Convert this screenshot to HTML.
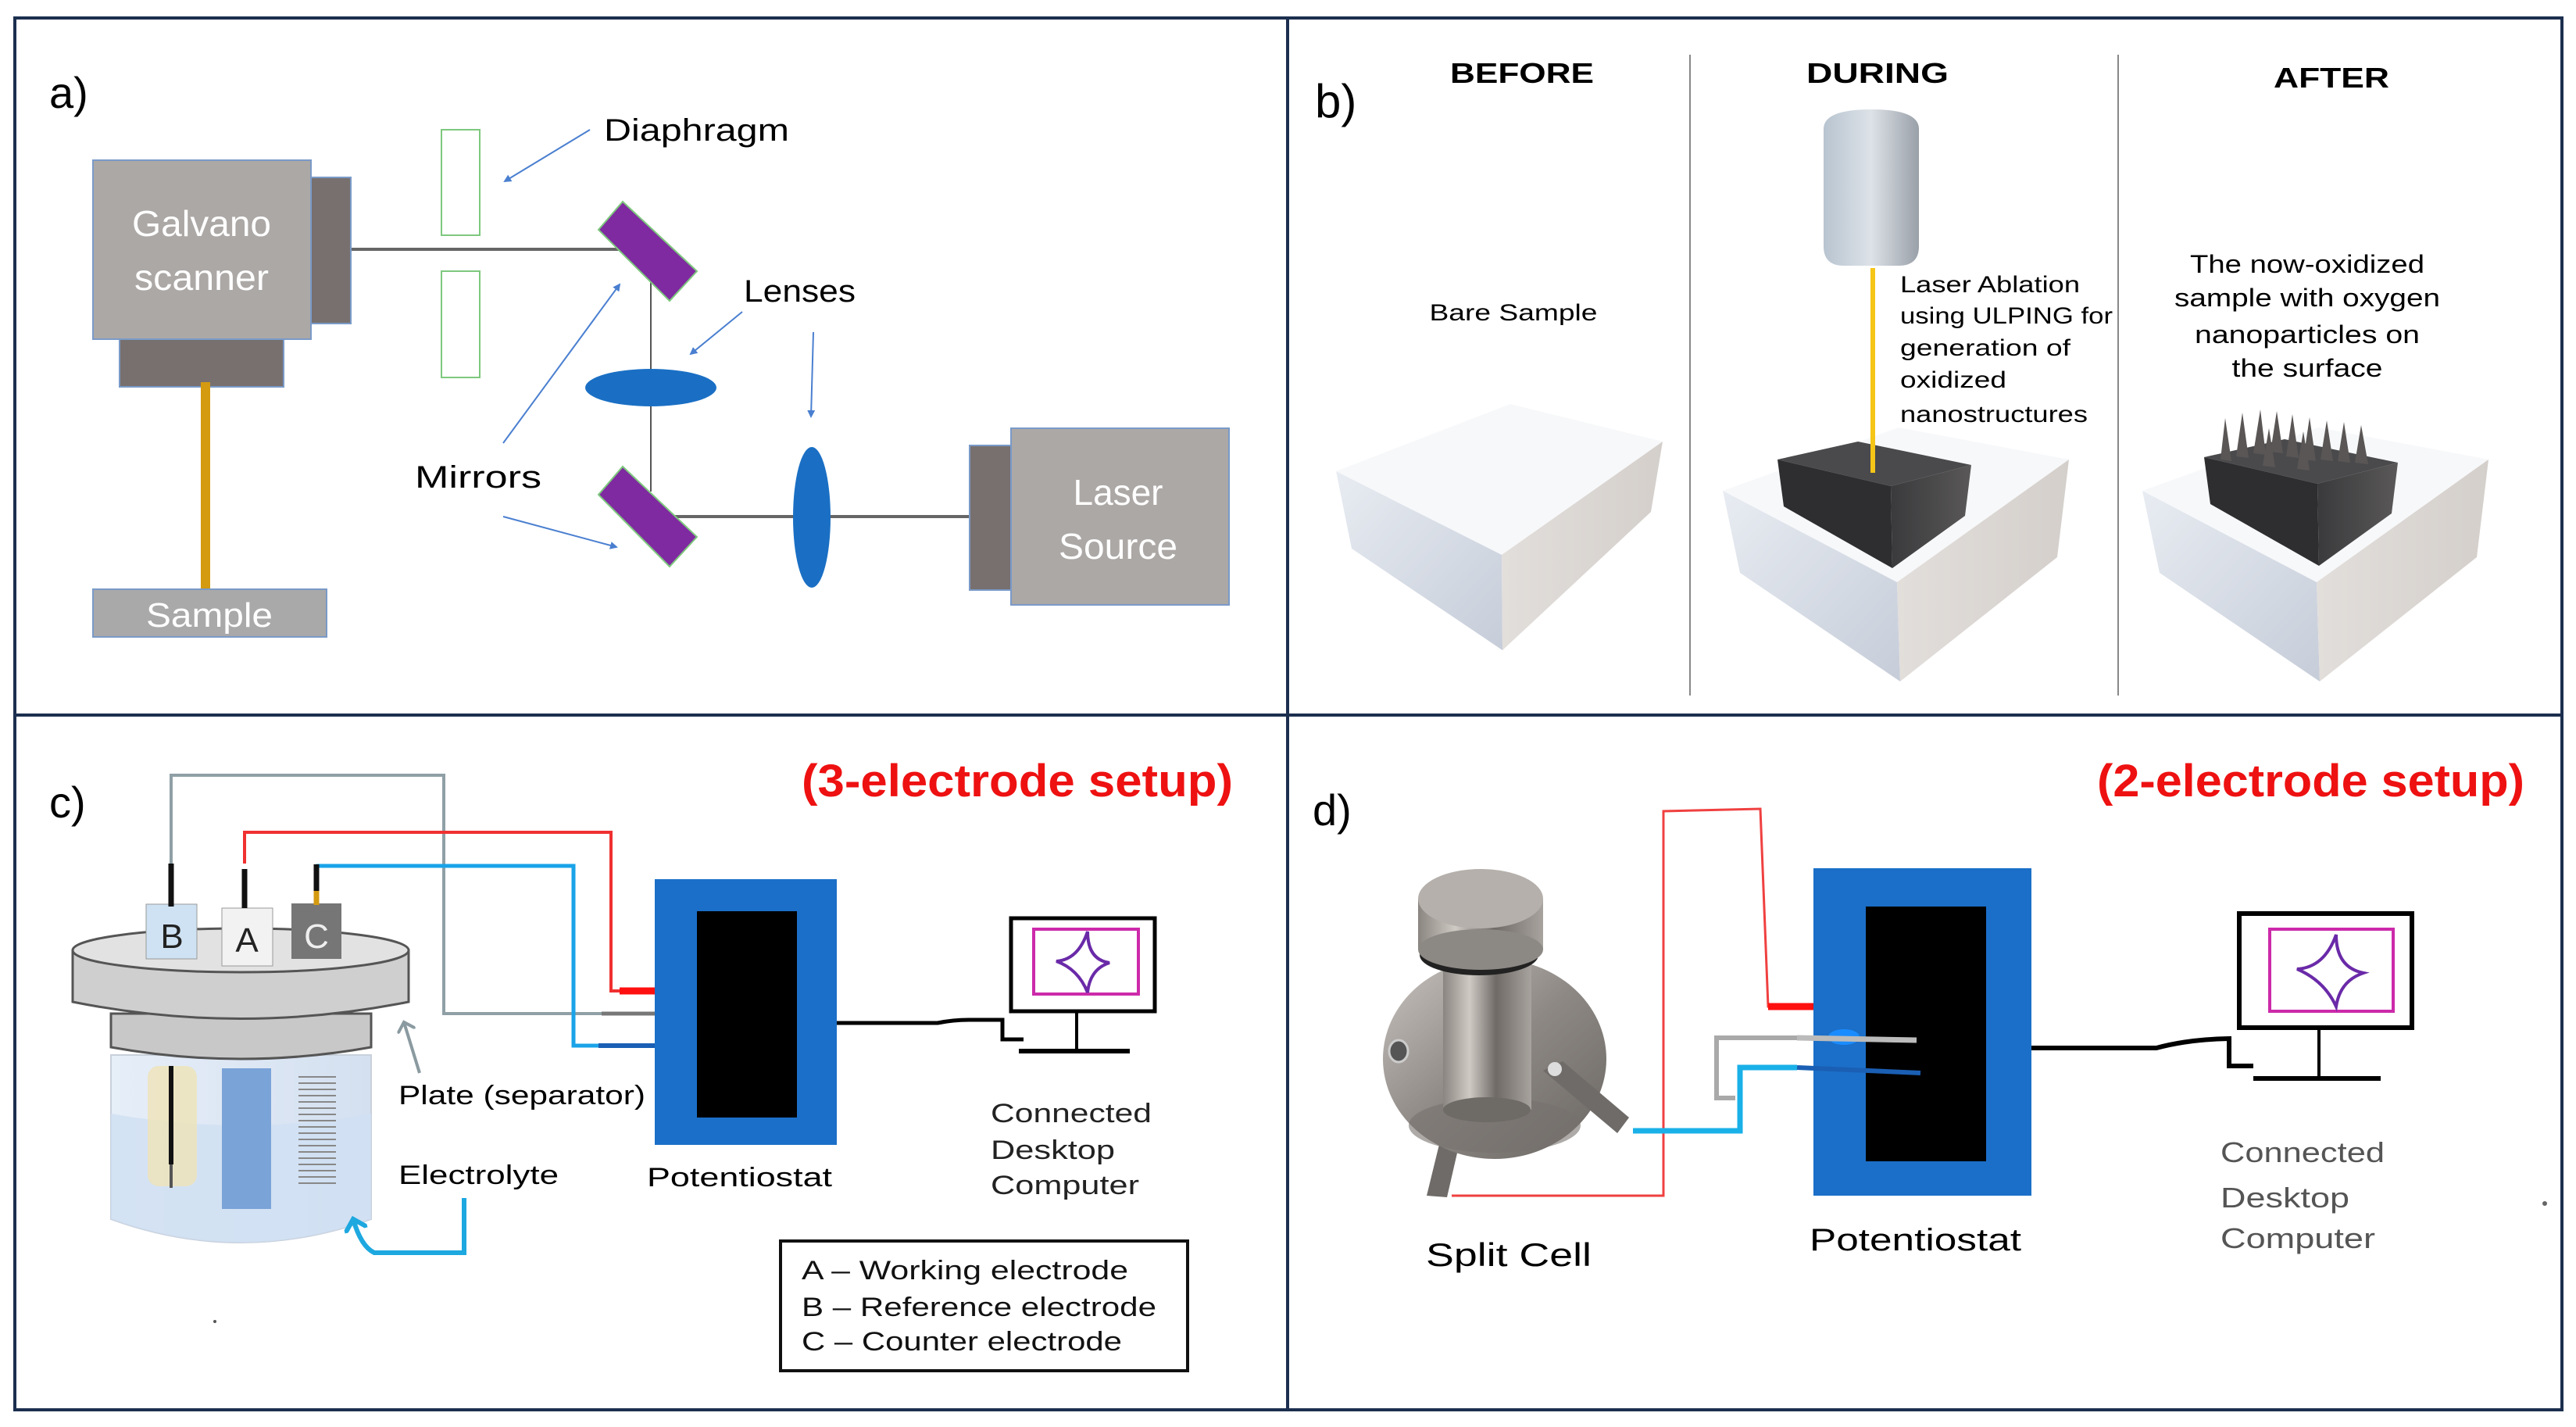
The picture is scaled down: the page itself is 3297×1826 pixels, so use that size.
<!DOCTYPE html>
<html><head><meta charset="utf-8"><style>html,body{margin:0;padding:0;background:#fff}svg{display:block}</style></head><body>
<svg width="3297" height="1826" viewBox="0 0 3297 1826" xmlns="http://www.w3.org/2000/svg" font-family="Liberation Sans, sans-serif">
<defs>
<marker id="ab" markerWidth="10" markerHeight="10" refX="8" refY="5" orient="auto" markerUnits="userSpaceOnUse"><path d="M0,0 L10,5 L0,10 z" fill="#4a7fd0"/></marker>
<marker id="ag" markerWidth="24" markerHeight="24" refX="12" refY="12" orient="auto" markerUnits="userSpaceOnUse"><path d="M0,0 L12,12 L0,24" fill="none" stroke="#8a9aa0" stroke-width="4"/></marker>
<marker id="ac" markerWidth="30" markerHeight="30" refX="15" refY="15" orient="auto" markerUnits="userSpaceOnUse"><path d="M0,0 L15,15 L0,30" fill="none" stroke="#1ea8e0" stroke-width="6"/></marker>
<linearGradient id="cyl" x1="0" x2="1"><stop offset="0" stop-color="#b8c4d0"/><stop offset="0.5" stop-color="#dde2e8"/><stop offset="1" stop-color="#9aa0a8"/></linearGradient>
<linearGradient id="wl" x1="0" x2="1" y1="0" y2="1"><stop offset="0" stop-color="#e8ecf2"/><stop offset="1" stop-color="#c6cdd9"/></linearGradient>
<linearGradient id="wr" x1="0" x2="1"><stop offset="0" stop-color="#e2dedb"/><stop offset="1" stop-color="#d4cfcb"/></linearGradient>
<linearGradient id="dk" x1="0" x2="1"><stop offset="0" stop-color="#3a3a3c"/><stop offset="1" stop-color="#5a5858"/></linearGradient>
<linearGradient id="met" x1="0" x2="1"><stop offset="0" stop-color="#8a8580"/><stop offset="0.3" stop-color="#cfcac4"/><stop offset="0.6" stop-color="#6f6a66"/><stop offset="1" stop-color="#a8a39e"/></linearGradient>
<linearGradient id="met2" x1="0" x2="1" y1="0" y2="1"><stop offset="0" stop-color="#c8c3be"/><stop offset="0.5" stop-color="#8d8884"/><stop offset="1" stop-color="#6a6662"/></linearGradient>
<linearGradient id="jar" x1="0" x2="1"><stop offset="0" stop-color="#e6eef8"/><stop offset="1" stop-color="#d4e0f0"/></linearGradient>
<g id="wbox">
<polygon points="2205,628 2430,547 2648,588 2428,745" fill="#f7f8fa"/>
<polygon points="2205,628 2428,745 2432,872 2227,733" fill="url(#wl)"/>
<polygon points="2428,745 2648,588 2633,713 2432,872" fill="url(#wr)"/>
</g>
<g id="dcube">
<polygon points="2275,588 2378,565 2523,595 2420,622" fill="#4a4a4c"/>
<polygon points="2275,588 2420,622 2422,727 2283,648" fill="#2e2e30"/>
<polygon points="2420,622 2523,595 2515,660 2422,727" fill="url(#dk)"/>
</g>
</defs>
<rect x="19" y="23" width="3260" height="1781" fill="none" stroke="#1c2f4f" stroke-width="4"/>
<line x1="1648" y1="23" x2="1648" y2="1804" stroke="#1c2f4f" stroke-width="4"/>
<line x1="19" y1="915" x2="3279" y2="915" stroke="#1c2f4f" stroke-width="4"/>

<!-- PANEL A -->
<text x="63" y="138" font-size="56">a)</text>
<line x1="449" y1="319" x2="800" y2="319" stroke="#666" stroke-width="4"/>
<line x1="833" y1="355" x2="833" y2="629" stroke="#555" stroke-width="2"/>
<line x1="863" y1="661" x2="1241" y2="661" stroke="#666" stroke-width="4"/>
<rect x="119" y="205" width="279" height="229" fill="#aca8a6" stroke="#7a9ac8" stroke-width="2"/>
<rect x="398" y="227" width="51" height="187" fill="#77706f" stroke="#7a9ac8" stroke-width="2"/>
<rect x="153" y="434" width="210" height="61" fill="#77706f" stroke="#7a9ac8" stroke-width="2"/>
<line x1="263" y1="489" x2="263" y2="757" stroke="#d49a10" stroke-width="12"/>
<rect x="119" y="754" width="299" height="61" fill="#a9a9a9" stroke="#7a9ac8" stroke-width="2"/>
<text x="258" y="302" font-size="46" fill="#fff" text-anchor="middle" textLength="178" lengthAdjust="spacingAndGlyphs">Galvano</text>
<text x="258" y="371" font-size="46" fill="#fff" text-anchor="middle" textLength="172" lengthAdjust="spacingAndGlyphs">scanner</text>
<text x="268" y="802" font-size="44" fill="#fff" text-anchor="middle" textLength="162" lengthAdjust="spacingAndGlyphs">Sample</text>
<rect x="565" y="166" width="49" height="135" fill="none" stroke="#7ec87e" stroke-width="2"/>
<rect x="565" y="347" width="49" height="136" fill="none" stroke="#7ec87e" stroke-width="2"/>
<polygon points="797,258 892,347 857,385 766,294" fill="#7f2aa0" stroke="#7ec87e" stroke-width="2"/>
<polygon points="797,597 892,687 857,725 766,633" fill="#7f2aa0" stroke="#7ec87e" stroke-width="2"/>
<ellipse cx="833" cy="496" rx="84" ry="24" fill="#1a6fc4"/>
<ellipse cx="1039" cy="662" rx="24" ry="90" fill="#1a6fc4"/>
<rect x="1241" y="570" width="53" height="185" fill="#77706f" stroke="#7a9ac8" stroke-width="2"/>
<rect x="1294" y="548" width="279" height="226" fill="#aca8a6" stroke="#7a9ac8" stroke-width="2"/>
<text x="1431" y="646" font-size="46" fill="#fff" text-anchor="middle" textLength="115" lengthAdjust="spacingAndGlyphs">Laser</text>
<text x="1431" y="715" font-size="46" fill="#fff" text-anchor="middle" textLength="152" lengthAdjust="spacingAndGlyphs">Source</text>
<text x="773" y="180" font-size="40" textLength="237" lengthAdjust="spacingAndGlyphs">Diaphragm</text>
<text x="952" y="386" font-size="40" textLength="143" lengthAdjust="spacingAndGlyphs">Lenses</text>
<text x="531" y="624" font-size="40" textLength="162" lengthAdjust="spacingAndGlyphs">Mirrors</text>
<g stroke="#4a7fd0" stroke-width="2" fill="none" marker-end="url(#ab)">
<line x1="755" y1="166" x2="646" y2="232"/>
<line x1="950" y1="399" x2="884" y2="453"/>
<line x1="1041" y1="425" x2="1038" y2="533"/>
<line x1="644" y1="567" x2="793" y2="364"/>
<line x1="644" y1="661" x2="789" y2="700"/>
</g>

<!-- PANEL B -->
<text x="1683" y="150" font-size="60">b)</text>
<line x1="2163" y1="70" x2="2163" y2="890" stroke="#888" stroke-width="2"/>
<line x1="2711" y1="70" x2="2711" y2="890" stroke="#888" stroke-width="2"/>
<text x="1948" y="106" font-size="36" font-weight="bold" text-anchor="middle" textLength="184" lengthAdjust="spacingAndGlyphs">BEFORE</text>
<text x="2403" y="106" font-size="36" font-weight="bold" text-anchor="middle" textLength="182" lengthAdjust="spacingAndGlyphs">DURING</text>
<text x="2984" y="112" font-size="36" font-weight="bold" text-anchor="middle" textLength="148" lengthAdjust="spacingAndGlyphs">AFTER</text>
<text x="1937" y="410" font-size="30" text-anchor="middle" textLength="215" lengthAdjust="spacingAndGlyphs">Bare Sample</text>
<!-- before box -->
<polygon points="1710,603 1933,517 2128,565 1922,710" fill="#f7f8fa"/>
<polygon points="1710,603 1922,710 1923,832 1730,702" fill="url(#wl)"/>
<polygon points="1922,710 2128,565 2113,655 1923,832" fill="url(#wr)"/>
<!-- during -->
<use href="#wbox"/>
<use href="#dcube"/>
<path d="M2334,165 Q2334,140 2395,140 Q2456,140 2456,165 L2456,315 Q2456,340 2430,340 L2360,340 Q2334,340 2334,315 Z" fill="url(#cyl)"/>
<line x1="2397" y1="343" x2="2397" y2="605" stroke="#f5c518" stroke-width="6"/>
<g font-size="30">
<text x="2432" y="374" textLength="230" lengthAdjust="spacingAndGlyphs">Laser Ablation</text>
<text x="2432" y="414" textLength="272" lengthAdjust="spacingAndGlyphs">using ULPING for</text>
<text x="2432" y="455" textLength="218" lengthAdjust="spacingAndGlyphs">generation of</text>
<text x="2432" y="496" textLength="136" lengthAdjust="spacingAndGlyphs">oxidized</text>
<text x="2432" y="540" textLength="240" lengthAdjust="spacingAndGlyphs">nanostructures</text>
</g>
<!-- after -->
<use href="#wbox" transform="translate(537,0)"/>
<use href="#dcube" transform="translate(546,-3)"/>
<g fill="#5a5655">
<polygon points="2842,588 2848,535 2856,590"/><polygon points="2862,584 2870,528 2878,586"/><polygon points="2884,580 2893,524 2900,582"/><polygon points="2906,578 2914,526 2922,580"/><polygon points="2926,584 2934,530 2942,586"/><polygon points="2948,588 2956,534 2964,590"/><polygon points="2970,588 2978,538 2986,590"/><polygon points="2992,590 3000,540 3008,592"/><polygon points="3014,592 3022,544 3031,594"/><polygon points="2896,596 2904,548 2912,598"/><polygon points="2940,600 2948,552 2956,602"/>
</g>
<g font-size="32" text-anchor="middle">
<text x="2953" y="349" textLength="300" lengthAdjust="spacingAndGlyphs">The now-oxidized</text>
<text x="2953" y="392" textLength="340" lengthAdjust="spacingAndGlyphs">sample with oxygen</text>
<text x="2953" y="439" textLength="288" lengthAdjust="spacingAndGlyphs">nanoparticles on</text>
<text x="2953" y="482" textLength="193" lengthAdjust="spacingAndGlyphs">the surface</text>
</g>

<!-- PANEL C -->
<text x="63" y="1046" font-size="56">c)</text>
<text x="1026" y="1019" font-size="58" font-weight="bold" fill="#ee1111" textLength="552" lengthAdjust="spacingAndGlyphs">(3-electrode setup)</text>
<polyline points="219,1105 219,992 568,992 568,1297 952,1297" fill="none" stroke="#8fa0a6" stroke-width="4"/>
<line x1="770" y1="1297" x2="952" y2="1297" stroke="#777" stroke-width="5"/>
<polyline points="313,1105 313,1065 782,1065 782,1268 800,1268" fill="none" stroke="#f03030" stroke-width="4"/>
<line x1="793" y1="1268" x2="952" y2="1268" stroke="#ff1010" stroke-width="9"/>
<polyline points="405,1108 734,1108 734,1338 770,1338" fill="none" stroke="#1aa3e8" stroke-width="5"/>
<line x1="766" y1="1338" x2="952" y2="1338" stroke="#1a5fb4" stroke-width="6"/>
<path d="M142,1350 L142,1560 Q308,1620 475,1560 L475,1350 Z" fill="url(#jar)" stroke="#c8d0dc" stroke-width="2"/>
<path d="M142,1425 Q308,1455 475,1425 L475,1560 Q308,1620 142,1560 Z" fill="#cfe0f3" opacity="0.8"/>
<rect x="189" y="1364" width="63" height="154" rx="14" fill="#efe3b8" opacity="0.8"/>
<line x1="219" y1="1364" x2="219" y2="1490" stroke="#111" stroke-width="6"/>
<line x1="219" y1="1490" x2="219" y2="1520" stroke="#555" stroke-width="4"/>
<rect x="284" y="1367" width="63" height="180" fill="#7aa3d8"/>
<g fill="none" stroke="#888" stroke-width="2">
<path d="M382,1378 h48 M382,1386 h48 M382,1394 h48 M382,1402 h48 M382,1410 h48 M382,1418 h48 M382,1426 h48 M382,1434 h48 M382,1442 h48 M382,1450 h48 M382,1458 h48 M382,1466 h48 M382,1474 h48 M382,1482 h48 M382,1490 h48 M382,1498 h48 M382,1506 h48 M382,1514 h48"/>
</g>
<path d="M142,1297 L142,1340 Q308,1370 475,1340 L475,1297 Z" fill="#c8c8c8" stroke="#555" stroke-width="3"/>
<path d="M93,1216 L93,1282 Q308,1325 523,1282 L523,1216 Z" fill="#cfcfcf" stroke="#555" stroke-width="3"/>
<ellipse cx="308" cy="1216" rx="215" ry="28" fill="#e2e2e2" stroke="#555" stroke-width="3"/>
<rect x="187" y="1157" width="65" height="70" fill="#cfe2f3" stroke="#999"/>
<rect x="284" y="1162" width="65" height="74" fill="#f2f2f2" stroke="#999"/>
<rect x="373" y="1156" width="64" height="71" fill="#767676"/>
<line x1="219" y1="1105" x2="219" y2="1160" stroke="#111" stroke-width="7"/>
<line x1="313" y1="1112" x2="313" y2="1162" stroke="#111" stroke-width="7"/>
<line x1="405" y1="1106" x2="405" y2="1140" stroke="#111" stroke-width="7"/>
<line x1="405" y1="1140" x2="405" y2="1158" stroke="#d49a10" stroke-width="7"/>
<text x="220" y="1213" font-size="44" text-anchor="middle" fill="#222">B</text>
<text x="316" y="1218" font-size="44" text-anchor="middle" fill="#222">A</text>
<text x="405" y="1213" font-size="44" text-anchor="middle" fill="#eee">C</text>
<line x1="537" y1="1373" x2="517" y2="1308" stroke="#8a9aa0" stroke-width="4" marker-end="url(#ag)"/>
<text x="510" y="1413" font-size="34" textLength="316" lengthAdjust="spacingAndGlyphs">Plate (separator)</text>
<text x="510" y="1515" font-size="34" textLength="205" lengthAdjust="spacingAndGlyphs">Electrolyte</text>
<path d="M594,1533 L594,1603 L479,1603 Q462,1595 452,1560" fill="none" stroke="#1ea8e0" stroke-width="6" marker-end="url(#ac)"/>
<rect x="838" y="1125" width="233" height="340" fill="#1b6fc8"/>
<rect x="892" y="1166" width="128" height="264" fill="#000"/>
<text x="828" y="1518" font-size="34" textLength="237" lengthAdjust="spacingAndGlyphs">Potentiostat</text>
<path d="M1071,1309 L1200,1309 Q1220,1305 1240,1305 L1283,1305 L1283,1330 L1310,1330" fill="none" stroke="#000" stroke-width="5"/>
<rect x="1294" y="1175" width="184" height="119" fill="#fff" stroke="#000" stroke-width="5"/>
<line x1="1378" y1="1294" x2="1378" y2="1344" stroke="#000" stroke-width="4"/>
<line x1="1304" y1="1345" x2="1446" y2="1345" stroke="#000" stroke-width="6"/>
<rect x="1323" y="1189" width="134" height="83" fill="none" stroke="#cc2aaa" stroke-width="4"/>
<path d="M1352,1230 Q1380,1228 1392,1192 Q1392,1228 1420,1232 Q1395,1240 1392,1270 Q1380,1240 1352,1230 Z" fill="none" stroke="#6a2aa8" stroke-width="4"/>
<g font-size="34" fill="#222">
<text x="1268" y="1436" textLength="206" lengthAdjust="spacingAndGlyphs">Connected</text>
<text x="1268" y="1483" textLength="159" lengthAdjust="spacingAndGlyphs">Desktop</text>
<text x="1268" y="1528" textLength="190" lengthAdjust="spacingAndGlyphs">Computer</text>
</g>
<rect x="999" y="1588" width="521" height="166" fill="#fff" stroke="#111" stroke-width="4"/>
<g font-size="34" fill="#111">
<text x="1026" y="1637" textLength="418" lengthAdjust="spacingAndGlyphs">A – Working electrode</text>
<text x="1026" y="1684" textLength="454" lengthAdjust="spacingAndGlyphs">B – Reference electrode</text>
<text x="1026" y="1728" textLength="410" lengthAdjust="spacingAndGlyphs">C – Counter electrode</text>
</g>
<circle cx="275" cy="1691" r="2" fill="#555"/>

<!-- PANEL D -->
<text x="1680" y="1056" font-size="56">d)</text>
<text x="2684" y="1019" font-size="58" font-weight="bold" fill="#ee1111" textLength="547" lengthAdjust="spacingAndGlyphs">(2-electrode setup)</text>
<polygon points="1848,1440 1872,1445 1852,1532 1826,1530" fill="#6f6b68"/>
<ellipse cx="1913" cy="1355" rx="143" ry="128" fill="url(#met2)"/>
<ellipse cx="1913" cy="1440" rx="110" ry="35" fill="#77726e" opacity="0.6"/>
<rect x="1847" y="1225" width="113" height="195" fill="url(#met)"/>
<ellipse cx="1903" cy="1420" rx="56" ry="16" fill="#6e6a66"/>
<ellipse cx="1893" cy="1222" rx="76" ry="26" fill="#222"/>
<rect x="1815" y="1150" width="160" height="65" fill="url(#met)"/>
<ellipse cx="1895" cy="1215" rx="80" ry="26" fill="#8c8884"/>
<ellipse cx="1895" cy="1150" rx="80" ry="38" fill="#b5b0ab"/>
<ellipse cx="1790" cy="1345" rx="12" ry="14" fill="#555" stroke="#ccc" stroke-width="3"/>
<polygon points="1975,1370 2000,1358 2085,1430 2070,1450" fill="#6f6b68"/>
<circle cx="1990" cy="1368" r="9" fill="#ddd"/>
<polyline points="1858,1530 2129,1530 2129,1038 2253,1035 2263,1288 2300,1288" fill="none" stroke="#f04040" stroke-width="3"/>
<line x1="2263" y1="1288" x2="2458" y2="1288" stroke="#ff1010" stroke-width="9"/>
<polyline points="2221,1405 2197,1405 2197,1328 2300,1328" fill="none" stroke="#a9a9a9" stroke-width="6"/>
<polyline points="2090,1447 2227,1447 2227,1366 2300,1366" fill="none" stroke="#1ab0e8" stroke-width="7"/>
<rect x="2321" y="1111" width="279" height="419" fill="#1b6fc8"/>
<rect x="2388" y="1160" width="154" height="326" fill="#000"/>
<ellipse cx="2360" cy="1327" rx="20" ry="10" fill="#1a8cff"/>
<line x1="2300" y1="1328" x2="2453" y2="1331" stroke="#bbb" stroke-width="7"/>
<line x1="2300" y1="1366" x2="2458" y2="1373" stroke="#1a5fb4" stroke-width="6"/>
<text x="2316" y="1600" font-size="40" textLength="271" lengthAdjust="spacingAndGlyphs">Potentiostat</text>
<text x="1825" y="1620" font-size="42" textLength="212" lengthAdjust="spacingAndGlyphs">Split Cell</text>
<path d="M2600,1341 L2760,1341 Q2800,1330 2853,1329 L2853,1364 L2884,1364" fill="none" stroke="#000" stroke-width="6"/>
<rect x="2866" y="1169" width="221" height="146" fill="#fff" stroke="#000" stroke-width="6"/>
<line x1="2968" y1="1315" x2="2968" y2="1379" stroke="#000" stroke-width="4"/>
<line x1="2884" y1="1380" x2="3047" y2="1380" stroke="#000" stroke-width="6"/>
<rect x="2905" y="1189" width="158" height="105" fill="none" stroke="#cc2aaa" stroke-width="4"/>
<path d="M2940,1240 Q2975,1238 2990,1196 Q2990,1238 3025,1245 Q2995,1255 2990,1288 Q2975,1255 2940,1240 Z" fill="none" stroke="#6a2aa8" stroke-width="4"/>
<g font-size="36" fill="#555">
<text x="2842" y="1487" textLength="210" lengthAdjust="spacingAndGlyphs">Connected</text>
<text x="2842" y="1545" textLength="165" lengthAdjust="spacingAndGlyphs">Desktop</text>
<text x="2842" y="1597" textLength="198" lengthAdjust="spacingAndGlyphs">Computer</text>
</g>
<circle cx="3257" cy="1540" r="3" fill="#666"/>
</svg>
</body></html>
